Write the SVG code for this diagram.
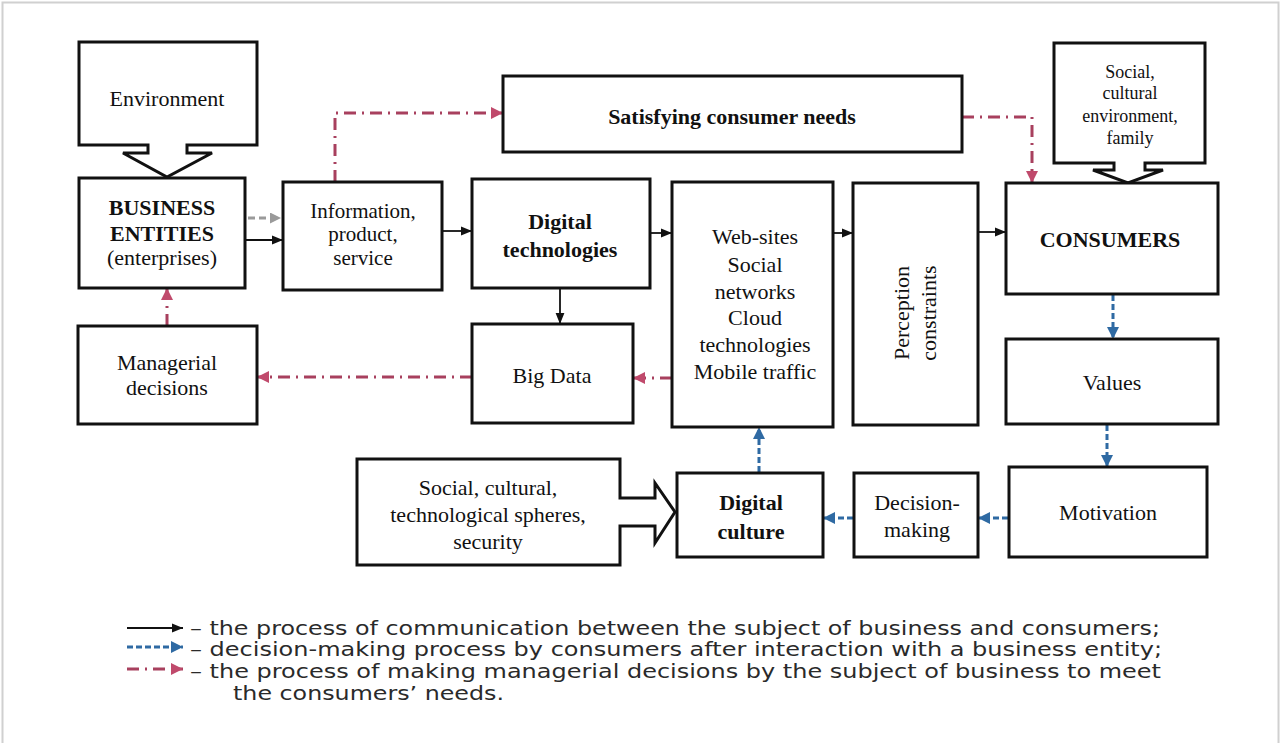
<svg xmlns="http://www.w3.org/2000/svg" width="1287" height="743" viewBox="0 0 1287 743">
<defs>
<style>
.box{fill:#fff;stroke:#111;stroke-width:3}
.t{font-family:"Liberation Serif","Times New Roman",serif;font-size:22px;fill:#111;text-anchor:middle}
.b{font-weight:bold}
.s{font-size:18px}
.m{font-size:21px}
.lg{font-family:"DejaVu Sans",Verdana,sans-serif;font-size:19px;fill:#2a2a2a}
.solid{fill:none;stroke:#111;stroke-width:1.8}
.blue{fill:none;stroke:#2f6aa3;stroke-width:3;stroke-dasharray:6 3}
.red{fill:none;stroke:#a8405e;stroke-width:3;stroke-dasharray:12 6 2 6}
.gray{fill:none;stroke:#9a9a9a;stroke-width:3;stroke-dasharray:7 4}
</style>
<marker id="ak" viewBox="0 0 10 10" refX="10" refY="5" markerUnits="userSpaceOnUse" markerWidth="11" markerHeight="11" orient="auto"><path d="M0,1 L10,5 L0,9 Z" fill="#111"/></marker>
<marker id="ab" viewBox="0 0 10 10" refX="10" refY="5" markerUnits="userSpaceOnUse" markerWidth="12" markerHeight="12" orient="auto"><path d="M0,0 L10,5 L0,10 Z" fill="#2f6aa3"/></marker>
<marker id="ar" viewBox="0 0 10 10" refX="10" refY="5" markerUnits="userSpaceOnUse" markerWidth="12" markerHeight="12" orient="auto"><path d="M0,0 L10,5 L0,10 Z" fill="#c04a6c"/></marker>
<marker id="ag" viewBox="0 0 10 10" refX="10" refY="5" markerUnits="userSpaceOnUse" markerWidth="11" markerHeight="11" orient="auto"><path d="M0,0 L10,5 L0,10 Z" fill="#9a9a9a"/></marker>
</defs>
<rect x="0" y="0" width="1287" height="743" fill="#fff"/>
<rect x="2.5" y="2.5" width="1276" height="760" fill="none" stroke="#d0d0d0" stroke-width="2"/>

<g id="connectors">
<line class="solid" x1="245" y1="240" x2="283" y2="240" marker-end="url(#ak)"/>
<line class="solid" x1="442" y1="231" x2="472" y2="231" marker-end="url(#ak)"/>
<line class="solid" x1="650" y1="233" x2="672" y2="233" marker-end="url(#ak)"/>
<line class="solid" x1="833" y1="233" x2="853" y2="233" marker-end="url(#ak)"/>
<line class="solid" x1="978" y1="232" x2="1006" y2="232" marker-end="url(#ak)"/>
<line class="solid" x1="560" y1="288" x2="560" y2="324" marker-end="url(#ak)"/>
<line class="gray" x1="248" y1="218" x2="281" y2="218" marker-end="url(#ag)"/>
<line class="blue" x1="1113" y1="295" x2="1113" y2="339" marker-end="url(#ab)"/>
<line class="blue" x1="1107" y1="425" x2="1107" y2="467" marker-end="url(#ab)"/>
<line class="blue" x1="1008" y1="518" x2="978" y2="518" marker-end="url(#ab)"/>
<line class="blue" x1="853" y1="518" x2="823" y2="518" marker-end="url(#ab)"/>
<line class="blue" x1="759" y1="472" x2="759" y2="427" marker-end="url(#ab)"/>
<path class="red" d="M335,182 V113 H503" marker-end="url(#ar)"/>
<path class="red" d="M962,117 H1032 V183" marker-end="url(#ar)"/>
<line class="red" x1="672" y1="378" x2="633" y2="378" marker-end="url(#ar)"/>
<line class="red" x1="472" y1="377" x2="257" y2="377" marker-end="url(#ar)"/>
<line class="red" x1="167" y1="326" x2="167" y2="288" marker-end="url(#ar)"/>
</g>

<g id="environment">
<path class="box" d="M79,42 H257 V145 H187 V153 H212 L167,177 L123,153 H148 V145 H79 Z"/>
<text class="t" x="167" y="106">Environment</text>
</g>
<g id="business">
<rect class="box" x="79" y="178" width="166" height="110"/>
<text class="t b" x="162" y="215">BUSINESS</text>
<text class="t b" x="162" y="241">ENTITIES</text>
<text class="t" x="162" y="265">(enterprises)</text>
</g>
<g id="info">
<rect class="box" x="283" y="182" width="159" height="108"/>
<text class="t m" x="363" y="218">Information,</text>
<text class="t m" x="363" y="241">product,</text>
<text class="t m" x="363" y="265">service</text>
</g>
<g id="satisfying">
<rect class="box" x="503" y="76" width="459" height="76"/>
<text class="t b" x="732" y="124">Satisfying consumer needs</text>
</g>
<g id="social-env">
<path class="box" d="M1054,43 H1205 V163 H1145 V170 H1163 L1128,183 L1093,170 H1114 V163 H1054 Z"/>
<text class="t s" x="1130" y="78">Social,</text>
<text class="t s" x="1130" y="99">cultural</text>
<text class="t s" x="1130" y="122">environment,</text>
<text class="t s" x="1130" y="144">family</text>
</g>
<g id="digital-tech">
<rect class="box" x="472" y="179" width="178" height="109"/>
<text class="t b" x="560" y="229">Digital</text>
<text class="t b" x="560" y="257">technologies</text>
</g>
<g id="websites">
<rect class="box" x="672" y="182" width="161" height="245"/>
<text class="t" x="755" y="244">Web-sites</text>
<text class="t" x="755" y="272">Social</text>
<text class="t" x="755" y="299">networks</text>
<text class="t" x="755" y="325">Cloud</text>
<text class="t" x="755" y="352">technologies</text>
<text class="t" x="755" y="379">Mobile traffic</text>
</g>
<g id="perception">
<rect class="box" x="853" y="183" width="125" height="242"/>
<text class="t" transform="translate(909,313) rotate(-90)">Perception</text>
<text class="t" transform="translate(936,313) rotate(-90)">constraints</text>
</g>
<g id="consumers">
<rect class="box" x="1006" y="183" width="212" height="111"/>
<text class="t b" x="1110" y="247">CONSUMERS</text>
</g>
<g id="managerial">
<rect class="box" x="78" y="326" width="179" height="98"/>
<text class="t" x="167" y="370">Managerial</text>
<text class="t" x="167" y="395">decisions</text>
</g>
<g id="bigdata">
<rect class="box" x="472" y="324" width="161" height="99"/>
<text class="t" x="552" y="383">Big Data</text>
</g>
<g id="values">
<rect class="box" x="1006" y="339" width="212" height="85"/>
<text class="t" x="1112" y="390">Values</text>
</g>
<g id="social-tech">
<path class="box" d="M357,459 H620 V498 H655 V483 L675,512 L655,543 V526 H620 V565 H357 Z"/>
<text class="t" x="488" y="495">Social, cultural,</text>
<text class="t" x="488" y="522">technological spheres,</text>
<text class="t" x="488" y="549">security</text>
</g>
<g id="digital-culture">
<rect class="box" x="677" y="473" width="146" height="84"/>
<text class="t b" x="751" y="510">Digital</text>
<text class="t b" x="751" y="539">culture</text>
</g>
<g id="decision">
<rect class="box" x="854" y="473" width="124" height="84"/>
<text class="t" x="917" y="510">Decision-</text>
<text class="t" x="917" y="537">making</text>
</g>
<g id="motivation">
<rect class="box" x="1009" y="467" width="198" height="90"/>
<text class="t" x="1108" y="520">Motivation</text>
</g>

<g id="legend">
<line class="solid" x1="127" y1="628" x2="183" y2="628" marker-end="url(#ak)"/>
<line class="blue" x1="127" y1="647" x2="183" y2="647" marker-end="url(#ab)"/>
<line class="red" x1="127" y1="669" x2="183" y2="669" marker-end="url(#ar)"/>
<text class="lg" x="190" y="635" textLength="970" lengthAdjust="spacingAndGlyphs">– the process of communication between the subject of business and consumers;</text>
<text class="lg" x="190" y="656" textLength="972" lengthAdjust="spacingAndGlyphs">– decision-making process by consumers after interaction with a business entity;</text>
<text class="lg" x="190" y="678" textLength="971" lengthAdjust="spacingAndGlyphs">– the process of making managerial decisions by the subject of business to meet</text>
<text class="lg" x="233" y="700" textLength="271" lengthAdjust="spacingAndGlyphs">the consumers’ needs.</text>
</g>
</svg>
